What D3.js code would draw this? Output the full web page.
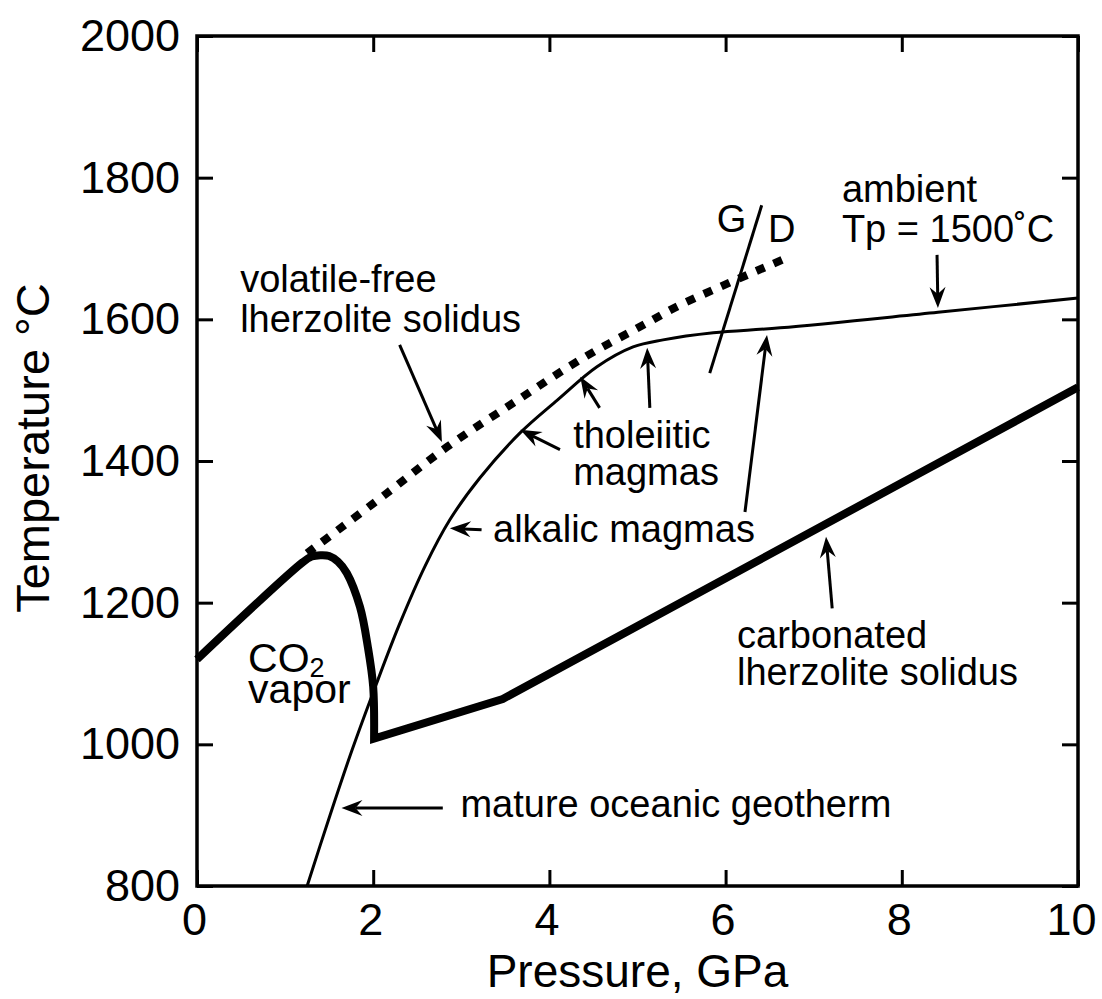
<!DOCTYPE html>
<html>
<meta charset="utf-8">
<style>
body {
	margin: 0;
	background: #fff;
}
svg text {
	font-family: "Liberation Sans", Arial, Helvetica, sans-serif;
	fill: #000;
}
.axis text {
	font-size: 45px;
}
.axis path {
	display: none;
}
.axis line {
	stroke: #000;
	stroke-width: 3;
}
.note {
	font-size: 38px;
}
</style>
<body>
<script src="https://cdn.jsdelivr.net/npm/d3@7"></script>
<script>
// axis ticks
var pressureTicks = [0, 2, 4, 6, 8, 10];
var tempTicks = [800, 1000, 1200, 1400, 1600, 1800, 2000];

// mature oceanic geotherm (P in GPa, T in C)
var geothermP = [1.25, 1.51, 1.76, 2.02, 2.30, 2.59, 2.87, 3.21, 3.67, 4.09, 4.54, 4.95, 5.29, 5.86, 6.62, 8.41, 10];
var geothermT = [800, 900, 992, 1080, 1170, 1252, 1317, 1376, 1440, 1486, 1533, 1561, 1571, 1581, 1588, 1610, 1630];

// volatile-free lherzolite solidus (dotted)
var dryP = [1.25, 2.16, 2.84, 3.59, 4.35, 5.11, 5.48, 6.70];
var dryT = [1270, 1355, 1420, 1482, 1543, 1595, 1620, 1687];

// carbonated lherzolite solidus (thick): curved CO2-vapour part, then straight part
var carbCurveP = [0, 1.2, 1.3, 1.4, 1.5, 1.6, 1.7, 1.85, 1.94, 2.0, 2.01];
var carbCurveT = [1120, 1257, 1265, 1267, 1266, 1258, 1242, 1194, 1137, 1081, 1008];
var carbLineP = [3.47, 10];
var carbLineT = [1064, 1504];

// garnet / diamond boundary
var gdP = [5.82, 6.41];
var gdT = [1524, 1761];

var margin = {top: 36, right: 24, bottom: 113, left: 197},
    width = 1102 - margin.left - margin.right,
    height = 999 - margin.top - margin.bottom;

var x = d3.scaleLinear().domain([0, 10]).range([0, width]);
var y = d3.scaleLinear().domain([800, 2000]).range([height, 0]);

var svg = d3.select("body").append("svg")
    .attr("width", width + margin.left + margin.right)
    .attr("height", height + margin.top + margin.bottom)
  .append("g")
    .attr("transform", "translate(" + margin.left + "," + margin.top + ")");

// axes, ticks pointing inwards
var xAxis = svg.append("g")
    .attr("class", "axis")
    .attr("transform", "translate(0," + height + ")")
    .call(d3.axisBottom(x).tickValues(pressureTicks).tickSize(-16).tickPadding(17).tickFormat(d3.format("d")));
xAxis.selectAll("text")
    .attr("dx", function(d) { return d == 10 ? -7 : -3; });
svg.append("g")
    .attr("class", "axis")
    .call(d3.axisTop(x).tickValues(pressureTicks).tickSize(-16).tickFormat(""));
svg.append("g")
    .attr("class", "axis")
    .call(d3.axisLeft(y).tickValues(tempTicks).tickSize(-16).tickPadding(17).tickFormat(d3.format("d")));
svg.append("g")
    .attr("class", "axis")
    .attr("transform", "translate(" + width + ",0)")
    .call(d3.axisRight(y).tickValues(tempTicks).tickSize(-16).tickFormat(""));

svg.append("rect")
    .attr("width", width)
    .attr("height", height)
    .attr("fill", "none")
    .attr("stroke", "#000")
    .attr("stroke-width", 3.5);

// axis titles
svg.append("text")
    .attr("x", width / 2)
    .attr("y", height + 101)
    .attr("text-anchor", "middle")
    .style("font-size", "46px")
    .text("Pressure, GPa");
svg.append("text")
    .attr("transform", "translate(" + (49 - margin.left) + "," + (448 - margin.top) + ") rotate(-90)")
    .attr("text-anchor", "middle")
    .style("font-size", "47px")
    .text("Temperature \u00B0C");

function pairs(ps, ts) {
  return ps.map(function(p, i) { return [p, ts[i]]; });
}

var smooth = d3.line()
    .x(function(d) { return x(d[0]); })
    .y(function(d) { return y(d[1]); })
    .curve(d3.curveCatmullRom);
var straight = d3.line()
    .x(function(d) { return x(d[0]); })
    .y(function(d) { return y(d[1]); });

svg.append("path")
    .attr("d", smooth(pairs(dryP, dryT)))
    .attr("fill", "none")
    .attr("stroke", "#000")
    .attr("stroke-width", 8)
    .attr("stroke-dasharray", "9,10");

svg.append("path")
    .attr("d", smooth(pairs(geothermP, geothermT)))
    .attr("fill", "none")
    .attr("stroke", "#000")
    .attr("stroke-width", 3);

svg.append("path")
    .attr("d", straight(pairs(gdP, gdT)))
    .attr("fill", "none")
    .attr("stroke", "#000")
    .attr("stroke-width", 3);

var carbPath = smooth(pairs(carbCurveP, carbCurveT)) +
    pairs(carbLineP, carbLineT).map(function(d) { return "L" + x(d[0]) + "," + y(d[1]); }).join("");
svg.append("path")
    .attr("d", carbPath)
    .attr("fill", "none")
    .attr("stroke", "#000")
    .attr("stroke-width", 8);

// arrows: tail P, tail T, head P, head T
var arrows = [
  [2.30, 1564, 2.78, 1427],
  [4.12, 1416, 3.67, 1444],
  [4.57, 1475, 4.35, 1519],
  [5.14, 1475, 5.11, 1560],
  [3.23, 1303, 2.87, 1305],
  [6.22, 1328, 6.47, 1578],
  [8.40, 1691, 8.41, 1616],
  [7.21, 1192, 7.14, 1293],
  [2.79, 910, 1.64, 910]
];

arrows.forEach(function(a) {
  var x1 = x(a[0]), y1 = y(a[1]), x2 = x(a[2]), y2 = y(a[3]);
  var ang = Math.atan2(y2 - y1, x2 - x1);
  var len = 21, half = 8, notch = 14;
  var c = Math.cos(ang), s = Math.sin(ang);
  svg.append("line")
      .attr("x1", x1).attr("y1", y1)
      .attr("x2", x2 - notch * c).attr("y2", y2 - notch * s)
      .attr("stroke", "#000")
      .attr("stroke-width", 3);
  var pts = [
    [x2, y2],
    [x2 - len * c + half * s, y2 - len * s - half * c],
    [x2 - notch * c, y2 - notch * s],
    [x2 - len * c - half * s, y2 - len * s + half * c]
  ];
  svg.append("path")
      .attr("d", "M" + pts.join("L") + "Z")
      .attr("fill", "#000");
});

// text labels: lines, P, T, line height
var notes = [
  [["volatile-free", "lherzolite solidus"], 0.49, 1639, 40],
  [["ambient", "Tp = 1500\u02DAC"], 7.32, 1766, 40],
  [["tholeiitic", "magmas"], 4.27, 1418, 37],
  [["alkalic magmas"], 3.36, 1286, 0],
  [["carbonated", "lherzolite solidus"], 6.13, 1136, 37],
  [["mature oceanic geotherm"], 2.99, 897, 0],
  [["G"], 5.90, 1723, 0],
  [["D"], 6.48, 1709, 0]
];

notes.forEach(function(n) {
  var t = svg.append("text")
      .attr("class", "note")
      .attr("x", x(n[1]))
      .attr("y", y(n[2]));
  n[0].forEach(function(line, i) {
    t.append("tspan")
        .attr("x", x(n[1]))
        .attr("dy", i == 0 ? 0 : n[3])
        .text(line);
  });
});

// CO2 vapor
var co2 = svg.append("text")
    .attr("x", x(0.58))
    .attr("y", y(1102))
    .style("font-size", "41px");
co2.append("tspan").text("CO");
co2.append("tspan").attr("dy", 5).style("font-size", "27px").text("2");
svg.append("text")
    .attr("x", x(0.58))
    .attr("y", y(1102) + 31)
    .style("font-size", "41px")
    .text("vapor");
</script>
</body>
</html>
